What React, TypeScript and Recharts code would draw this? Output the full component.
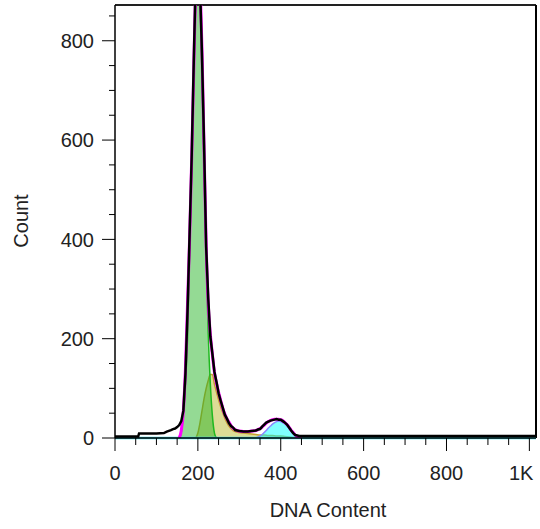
import React from "react";
import { ComposedChart, Area, Line, XAxis, YAxis, ReferenceLine } from "recharts";

// DNA content histogram with cell-cycle model
const histChannel = [
  0, 56, 58, 80, 100, 118, 125, 135, 140, 145, 150, 155, 160, 165, 170, 175, 180, 185, 190, 195, 200, 205,
  210, 215, 220, 225, 230, 235, 240, 245, 250, 255, 260, 265, 270, 275, 280, 285, 290, 295, 300, 310, 320,
  330, 340, 345, 350, 355, 360, 365, 370, 375, 380, 385, 390, 395, 400, 405, 410, 415, 420, 425, 430, 435,
  440, 445, 450, 455, 460, 470, 480, 500, 600, 800, 1016,
];
const histCount = [
  3, 3, 9, 9, 9, 10, 13, 16, 18, 19, 22, 26, 34, 55, 130, 255, 410, 565, 755, 935, 1020, 915,
  770, 590, 385, 282, 205, 170, 133, 113, 90, 75, 61, 47, 39, 30, 24, 21, 16, 15, 14, 13, 13,
  14, 15, 17, 18, 23, 27, 31, 33, 35, 36, 37, 38, 37, 37, 34, 31, 27, 21, 15, 10, 6,
  5, 4, 4, 4, 4, 4, 4, 4, 4, 4, 4,
];

const fitChannel = [
  155, 160, 165, 170, 175, 180, 185, 190, 195, 200, 205, 210, 215, 220, 225, 230, 235, 240, 245, 250,
  255, 260, 265, 270, 275, 280, 285, 290, 295, 300, 310, 320, 330, 340, 345, 350, 355, 360, 365, 370,
  375, 380, 385, 390, 395, 400, 405, 410, 415, 420, 425, 430, 435, 440, 445, 450,
];
const fitCount = [
  0, 15, 55, 140, 270, 400, 560, 740, 920, 1000, 930, 780, 580, 390, 270, 210, 168, 132, 110, 92,
  76, 60, 48, 39, 32, 25, 20, 17, 15, 14, 13, 13, 14, 15, 17, 19, 22, 26, 30, 33,
  35, 37, 38, 38, 38, 37, 35, 31, 27, 22, 16, 11, 6, 3, 1, 0,
];

const g1Channel = [155, 160, 165, 170, 175, 180, 185, 190, 195, 200, 205, 210, 215, 220, 225, 230, 235, 240, 245];
const g1Count = [0, 12, 50, 110, 200, 370, 540, 730, 900, 1000, 900, 730, 540, 360, 210, 110, 45, 10, 0];

const sChannel = [
  195, 200, 205, 210, 215, 220, 225, 230, 235, 240, 245, 250, 255, 260, 265, 270, 275, 280, 285, 290,
  295, 300, 310, 320, 330, 340, 350, 360, 370, 380, 390, 400, 410, 420, 430, 440,
];
const sCount = [
  0, 10, 30, 55, 80, 100, 116, 128, 128, 108, 92, 77, 63, 51, 40, 31, 24, 19, 15, 13,
  12, 11, 10, 9, 8, 7, 6, 6, 5, 5, 4, 4, 3, 2, 1, 0,
];

const g2Channel = [
  340, 345, 350, 355, 360, 365, 370, 375, 380, 385, 390, 395, 400, 405, 410, 415, 420, 425, 430, 435,
  440, 445, 450,
];
const g2Count = [0, 2, 4, 7, 11, 15, 20, 24, 28, 31, 33, 34, 33, 31, 29, 26, 22, 16, 10, 5, 2, 1, 0];

const xTicks = [0, 50, 100, 150, 200, 250, 300, 350, 400, 450, 500, 550, 600, 650, 700, 750, 800, 850, 900, 950, 1000];
const yTicks = [0, 50, 100, 150, 200, 250, 300, 350, 400, 450, 500, 550, 600, 650, 700, 750, 800, 850];
const X_MAX = 1016;
const Y_MAX = 872;

const FONT = '"Liberation Sans", Arial, Helvetica, sans-serif';
const TEXT = "#222";

function buildRows() {
  const rows = new Map<number, any>();
  const put = (xs: number[], ys: number[], key: string) =>
    xs.forEach((x, i) => {
      const r = rows.get(x) ?? { x };
      r[key] = ys[i];
      rows.set(x, r);
    });
  put(histChannel, histCount, "hist");
  put(fitChannel, fitCount, "fit");
  put(g1Channel, g1Count, "g1");
  put(sChannel, sCount, "s");
  put(g2Channel, g2Count, "g2");
  return [...rows.values()].sort((a, b) => a.x - b.x);
}

const rows = buildRows();

function YTick(props: any) {
  const { x, y, payload } = props;
  const v = payload.value;
  const major = v % 200 === 0;
  return (
    <g>
      <line x1={x} x2={x - (major ? 13 : 6)} y1={y} y2={y} stroke="#000" />
      {major && (
        <text x={x - 21} y={y} dy="0.36em" textAnchor="end" fontSize={20} fontFamily={FONT} fill={TEXT}>
          {v}
        </text>
      )}
    </g>
  );
}

function XTick(props: any) {
  const { x, y, payload } = props;
  const v = payload.value;
  const major = v % 200 === 0;
  const last = v === 1000;
  return (
    <g>
      <line x1={x} x2={x} y1={y} y2={y + (major ? 13 : 7)} stroke="#000" />
      {major && (
        <text
          x={last ? x + 4 : x}
          y={y + 42}
          textAnchor={last ? "end" : "middle"}
          fontSize={20}
          fontFamily={FONT}
          fill={TEXT}
        >
          {last ? "1K" : v}
        </text>
      )}
    </g>
  );
}

function AxisTitle({ tx, ty, rotation, text }: any) {
  return (
    <text
      x={tx}
      y={ty}
      textAnchor="middle"
      fontSize={20}
      fontFamily={FONT}
      fill={TEXT}
      transform={rotation ? `rotate(${rotation}, ${tx}, ${ty})` : undefined}
    >
      {text}
    </text>
  );
}

export default function App() {
  return (
    <div style={{ position: "absolute", left: 0, top: 0, width: 540, height: 529, background: "#fff" }}>
      <ComposedChart width={540} height={529} data={rows} margin={{ top: 5, right: 4, bottom: 0, left: 0 }}>
        <XAxis
          dataKey="x"
          type="number"
          domain={[0, X_MAX]}
          allowDataOverflow
          ticks={xTicks}
          interval={0}
          height={91}
          tickSize={0}
          tickMargin={0}
          tickLine={false}
          axisLine={{ stroke: "#000", strokeWidth: 1.5 }}
          tick={<XTick />}
          label={<AxisTitle tx={328} ty={517} text="DNA Content" />}
        />
        <YAxis
          type="number"
          domain={[0, Y_MAX]}
          allowDataOverflow
          ticks={yTicks}
          interval={0}
          width={115}
          tickSize={0}
          tickMargin={0}
          tickLine={false}
          axisLine={{ stroke: "#000", strokeWidth: 1.5 }}
          tick={<YTick />}
          label={<AxisTitle tx={28} ty={221} rotation={-90} text="Count" />}
        />
        <ReferenceLine y={Y_MAX} stroke="#222" strokeWidth={2} />
        <ReferenceLine x={X_MAX} stroke="#000" strokeWidth={2} />

        <Area
          type="monotone"
          dataKey="s"
          connectNulls
          stroke="#c4a030"
          strokeWidth={1.5}
          fill="#dcdc96"
          fillOpacity={1}
          dot={false}
          activeDot={false}
          isAnimationActive={false}
        />
        <Area
          type="monotone"
          dataKey="g1"
          connectNulls
          stroke="#1fb81f"
          strokeWidth={1.5}
          fill="#25b325"
          fillOpacity={0.49}
          dot={false}
          activeDot={false}
          isAnimationActive={false}
        />
        <Area
          type="monotone"
          dataKey="g2"
          connectNulls
          stroke="#8a86ff"
          strokeWidth={1.5}
          fill="#00ffff"
          fillOpacity={0.5}
          dot={false}
          activeDot={false}
          isAnimationActive={false}
        />
        <ReferenceLine y={0} stroke="#3fe4f0" strokeWidth={2.5} />
        <Line
          type="monotone"
          dataKey="fit"
          connectNulls
          stroke="#ff00ff"
          strokeWidth={3}
          dot={false}
          activeDot={false}
          isAnimationActive={false}
        />
        <Line
          type="linear"
          dataKey="hist"
          connectNulls
          stroke="#000"
          strokeWidth={2.5}
          dot={false}
          activeDot={false}
          isAnimationActive={false}
        />
      </ComposedChart>
    </div>
  );
}
